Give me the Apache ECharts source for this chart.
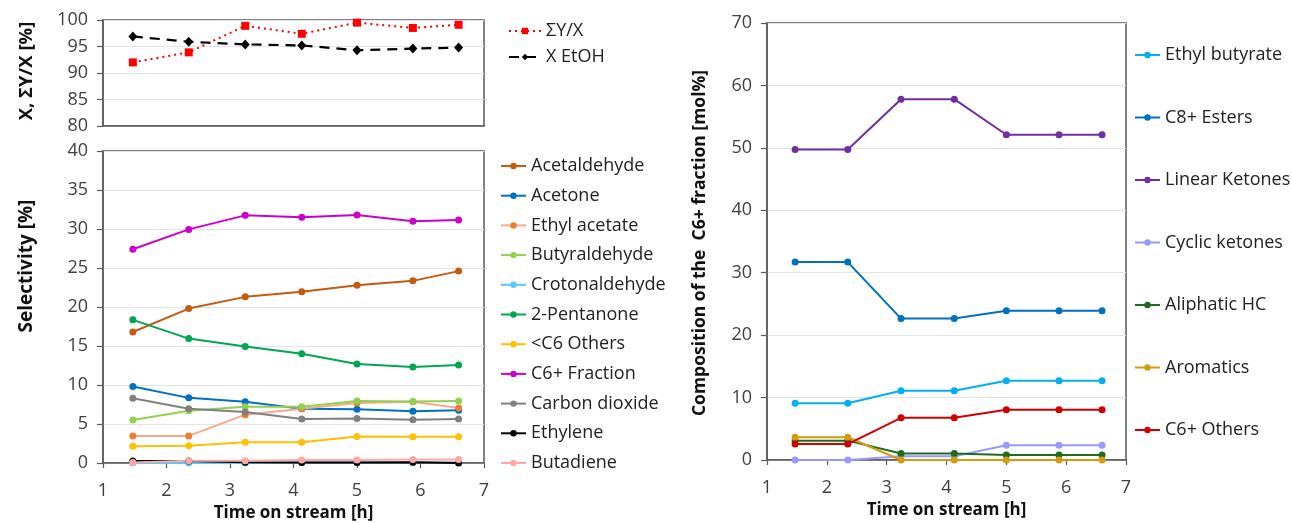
<!DOCTYPE html>
<html>
<head>
<meta charset="utf-8">
<script src="https://cdn.jsdelivr.net/npm/echarts@6/dist/echarts.min.js"></script>
<style>
  html, body { margin: 0; padding: 0; background: #fff; }
  #chart { width: 1292px; height: 523px; }
</style>
</head>
<body>
<div id="chart"></div>
<script>
// Sampling times on stream [h]
const times = [1.47, 2.35, 3.24, 4.13, 5.0, 5.88, 6.6];

// Conversion and carbon balance [%]
const sumYX = [92.0, 93.9, 98.9, 97.4, 99.5, 98.5, 99.1];
const xEtOH = [96.9, 95.9, 95.4, 95.2, 94.3, 94.6, 94.8];

// Selectivities [%]
const acetaldehyde   = [16.8, 19.8, 21.3, 21.95, 22.8, 23.35, 24.6];
const acetone        = [9.8, 8.35, 7.85, 6.95, 6.9, 6.65, 6.75];
const ethylAcetate   = [3.47, 3.47, 6.2, 6.95, 7.7, 7.85, 7.05];
const butyraldehyde  = [5.5, 6.7, 7.2, 7.2, 7.95, 7.9, 7.95];
const crotonaldehyde = [0.0, 0.0, 0.0, 0.05, 0.05, 0.05, 0.05];
const pentanone2     = [18.35, 15.95, 14.95, 14.0, 12.7, 12.3, 12.55];
const othersLtC6     = [2.15, 2.2, 2.65, 2.65, 3.4, 3.35, 3.35];
const c6Fraction     = [27.4, 29.95, 31.75, 31.5, 31.8, 31.0, 31.15];
const carbonDioxide  = [8.3, 6.95, 6.55, 5.65, 5.7, 5.55, 5.65];
const ethylene       = [0.25, 0.25, 0.1, 0.05, 0.05, 0.1, 0.0];
const butadiene      = [0.05, 0.3, 0.3, 0.4, 0.4, 0.45, 0.45];

// Composition of the C6+ fraction [mol%]
const ethylButyrate  = [9.1, 9.1, 11.1, 11.1, 12.7, 12.7, 12.7];
const c8Esters       = [31.7, 31.7, 22.65, 22.65, 23.9, 23.9, 23.9];
const linearKetones  = [49.75, 49.75, 57.8, 57.8, 52.1, 52.1, 52.1];
const cyclicKetones  = [0.0, 0.0, 0.6, 0.6, 2.35, 2.35, 2.35];
const aliphaticHC    = [3.1, 3.1, 1.05, 1.05, 0.8, 0.8, 0.8];
const aromatics      = [3.65, 3.65, 0.0, 0.0, 0.0, 0.0, 0.0];
const c6Others       = [2.55, 2.55, 6.75, 6.75, 8.05, 8.05, 8.05];

const xTicks = [1, 2, 3, 4, 5, 6, 7];

const FONT = '"Open Sans", Lato, sans-serif';
const pts = vals => times.map((t, i) => [t, vals[i]]);

function line(name, vals, color, idx, extra) {
  return Object.assign({
    name: name,
    type: 'line',
    xAxisIndex: idx,
    yAxisIndex: idx,
    data: pts(vals),
    symbol: 'circle',
    symbolSize: 7,
    lineStyle: { color: color, width: 2 },
    itemStyle: { color: color },
    emphasis: { disabled: true },
    animation: false
  }, extra || {});
}

const axisLabelStyle = { color: '#404040', fontSize: 18, fontFamily: FONT };
const gridLine = { show: true, lineStyle: { color: '#e4e4e4', width: 1 } };
const axisLine = { show: true, lineStyle: { color: '#595959', width: 1.5 } };

function xAxis(idx, showLabels) {
  return {
    type: 'value', gridIndex: idx, min: 1, max: 7, interval: 1,
    axisLine: axisLine,
    axisTick: { show: showLabels, length: 5, lineStyle: { color: '#595959', width: 1.2 } },
    axisLabel: Object.assign({ show: showLabels, margin: 19,
      formatter: v => xTicks.includes(v) ? String(v) : '' }, axisLabelStyle),
    splitLine: { show: false },
    name: showLabels ? 'Time on stream [h]' : '',
    nameLocation: 'middle',
    nameGap: 42,
    nameTextStyle: { color: '#111', fontSize: 17, fontWeight: 'bold', fontFamily: FONT }
  };
}

function yAxis(idx, min, max, interval) {
  return {
    type: 'value', gridIndex: idx, min: min, max: max, interval: interval,
    axisLine: axisLine,
    axisTick: { show: true, length: 6, lineStyle: { color: '#595959', width: 1.2 } },
    axisLabel: Object.assign({ margin: 15 }, axisLabelStyle),
    splitLine: gridLine
  };
}

// Rotated y-axis titles
function yTitle(text, x, y, size) {
  return {
    type: 'text', x: x, y: y, rotation: Math.PI / 2,
    style: {
      text: text, fill: '#111', fontSize: size, fontWeight: 'bold', fontFamily: FONT,
      textAlign: 'center', textVerticalAlign: 'middle'
    }
  };
}

const legendBase = {
  orient: 'vertical',
  padding: 0,
  itemWidth: 25,
  itemHeight: 8,
  selectedMode: false,
  textStyle: { color: '#222', fontSize: 18, fontFamily: FONT, lineHeight: 20 }
};

const gridBase = { show: true, borderColor: '#595959', borderWidth: 1.5, containLabel: false, outerBoundsMode: 'none' };

const option = {
  backgroundColor: '#fff',
  animation: false,
  grid: [
    Object.assign({ left: 103, top: 20, width: 381, height: 106 }, gridBase),
    Object.assign({ left: 103, top: 151, width: 381, height: 312 }, gridBase),
    Object.assign({ left: 767, top: 23, width: 359, height: 437 }, gridBase)
  ],
  xAxis: [xAxis(0, false), xAxis(1, true), xAxis(2, true)],
  yAxis: [
    yAxis(0, 80, 100, 5),
    yAxis(1, 0, 40, 5),
    yAxis(2, 0, 70, 10)
  ],
  graphic: [
    yTitle('X, ΣY/X [%]', 27, 71, 18.5),
    yTitle('Selectivity [%]', 27, 266, 19),
    yTitle('Composition of the  C6+ fraction [mol%]', 700, 243, 17.5)
  ],
  legend: [
    Object.assign({}, legendBase, { left: 508, top: 21, itemGap: 6, itemWidth: 32,
      data: ['ΣY/X', 'X EtOH'] }),
    Object.assign({}, legendBase, { left: 500, top: 156, itemGap: 9.7,
      data: ['Acetaldehyde', 'Acetone', 'Ethyl acetate', 'Butyraldehyde', 'Crotonaldehyde',
             '2-Pentanone', '<C6 Others', 'C6+ Fraction', 'Carbon dioxide', 'Ethylene', 'Butadiene'] }),
    Object.assign({}, legendBase, { left: 1134, top: 45, itemGap: 42.5,
      data: ['Ethyl butyrate', 'C8+ Esters', 'Linear Ketones', 'Cyclic ketones',
             'Aliphatic HC', 'Aromatics', 'C6+ Others'] })
  ],
  series: [
    line('ΣY/X', sumYX, '#ff0000', 0, {
      symbol: 'rect', symbolSize: 8,
      lineStyle: { color: '#ff0000', width: 2, type: [2, 4] }
    }),
    line('X EtOH', xEtOH, '#000000', 0, {
      symbol: 'diamond', symbolSize: [9, 10],
      lineStyle: { color: '#000000', width: 2.2, type: [10, 7] }
    }),

    line('Acetaldehyde', acetaldehyde, '#c55a11', 1),
    line('Acetone', acetone, '#0070c0', 1),
    line('Ethyl acetate', ethylAcetate, '#f8a98c', 1, { itemStyle: { color: '#ed7d31' } }),
    line('Butyraldehyde', butyraldehyde, '#92d050', 1),
    line('Crotonaldehyde', crotonaldehyde, '#5bc8f5', 1),
    line('2-Pentanone', pentanone2, '#00a650', 1),
    line('<C6 Others', othersLtC6, '#ffc000', 1),
    line('C6+ Fraction', c6Fraction, '#cc00cc', 1),
    line('Carbon dioxide', carbonDioxide, '#808080', 1),
    line('Ethylene', ethylene, '#000000', 1),
    line('Butadiene', butadiene, '#ffa8a8', 1),

    line('Ethyl butyrate', ethylButyrate, '#00b0f0', 2),
    line('C8+ Esters', c8Esters, '#0070c0', 2),
    line('Linear Ketones', linearKetones, '#7030a0', 2),
    line('Cyclic ketones', cyclicKetones, '#9999ff', 2),
    line('Aliphatic HC', aliphaticHC, '#1e6b1e', 2),
    line('Aromatics', aromatics, '#d49b0e', 2),
    line('C6+ Others', c6Others, '#d00000', 2)
  ]
};

const chart = echarts.init(document.getElementById('chart'), null, { renderer: 'canvas' });
chart.setOption(option);
</script>
</body>
</html>
